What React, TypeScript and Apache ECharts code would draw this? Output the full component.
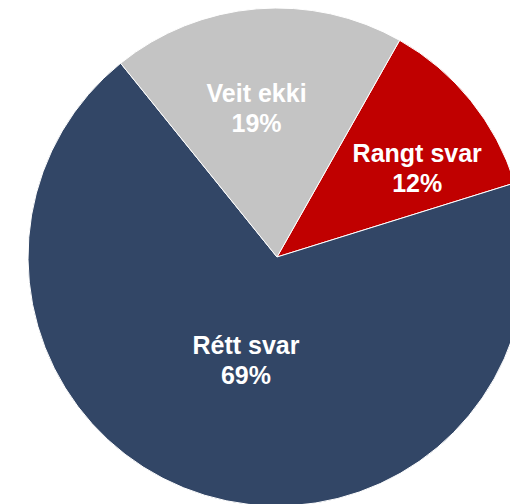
import React, { useEffect, useRef } from "react";
import * as echarts from "echarts";

const categories = ["Rangt svar", "Rétt svar", "Veit ekki"];
const values = [12, 69, 19];
const colors = ["#C00000", "#324666", "#C4C4C4"];
const labelOffsets: [number, number][] = [
  [41, -9],
  [6, -19],
  [-10, -22],
];

export default function App() {
  const ref = useRef<HTMLDivElement>(null);
  useEffect(() => {
    if (!ref.current) return;
    const chart = echarts.init(ref.current, undefined, { renderer: "svg" });
    chart.setOption({
      animation: false,
      backgroundColor: "#FFFFFF",
      series: [
        {
          type: "pie",
          center: [277, 257],
          radius: 249,
          startAngle: 60.5,
          clockwise: true,
          avoidLabelOverlap: false,
          itemStyle: { borderColor: "#FFFFFF", borderWidth: 1 },
          label: {
            show: true,
            position: "inside",
            color: "#FFFFFF",
            fontFamily: "Liberation Sans, Arial, sans-serif",
            fontWeight: "bold",
            fontSize: 25,
            lineHeight: 30,
            align: "center",
            formatter: (p: any) => `${p.name}\n${p.value}%`,
          },
          labelLine: { show: false },
          data: categories.map((name, i) => ({
            name,
            value: values[i],
            itemStyle: { color: colors[i] },
            label: { offset: labelOffsets[i] },
          })),
        },
      ],
    });
    return () => chart.dispose();
  }, []);
  return (
    <div
      ref={ref}
      style={{ position: "fixed", left: 0, top: 0, width: 510, height: 504 }}
    />
  );
}
